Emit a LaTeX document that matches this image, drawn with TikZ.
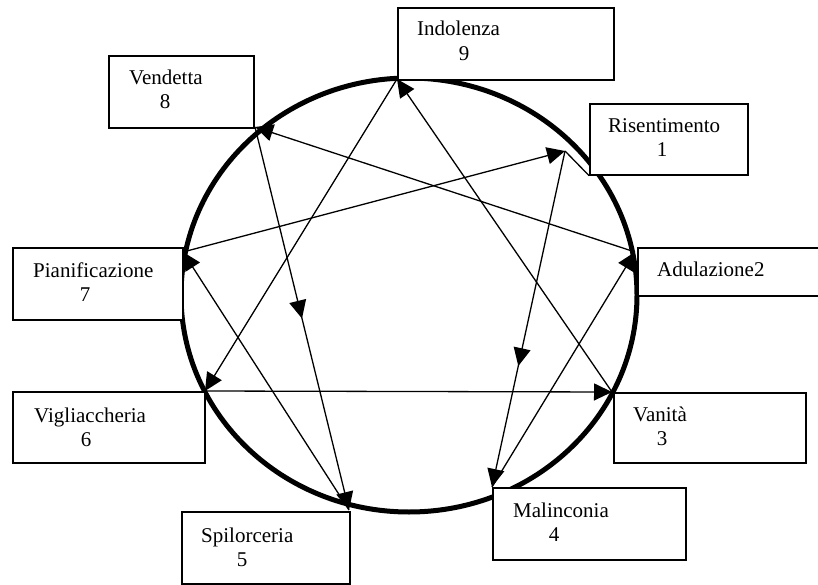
\documentclass[tikz,border=0pt]{standalone}
\usepackage{fontspec}
\setmainfont{Liberation Serif}
\usetikzlibrary{arrows.meta,decorations.markings}
\begin{document}
\begin{tikzpicture}[x=1pt,y=-1pt,
  box/.style={draw,line width=1.6pt,fill=white,anchor=north west,inner sep=0pt},
  lbl/.style={anchor=base west,inner sep=0pt,font=\fontsize{21}{25}\selectfont},
  num/.style={anchor=base,inner sep=0pt,font=\fontsize{21}{25}\selectfont},
  tip/.style={-{Triangle[length=18pt,width=17pt]}},
  conn/.style={line width=1.3pt,tip},
  midtip/.style={postaction={decorate},decoration={markings,mark=at position #1 with {\arrow{Triangle[length=18pt,width=17pt]}}}}
]
\clip (0,0) rectangle (818,585);
\fill[white] (0,0) rectangle (818,585);
% circle
\draw[line width=5pt] (409,295) ellipse [x radius=228, y radius=217];
% connection points
\coordinate (c9) at (397,79);
\coordinate (c8) at (255,127);
\coordinate (c1) at (565,151);
\coordinate (c7) at (183,252);
\coordinate (c2) at (635,252);
\coordinate (c6) at (205,391);
\coordinate (c3) at (612,392);
\coordinate (c5) at (349,510);
\coordinate (c4) at (492,487);
% boxes
\node[box,minimum width=216pt,minimum height=72pt] (b9) at (397,7) {};
\node[box,minimum width=145pt,minimum height=72pt] (b8) at (108,55) {};
\node[box,minimum width=158pt,minimum height=71pt] (b1) at (589,103) {};
\node[box,minimum width=170pt,minimum height=72pt] (b7) at (12,247) {};
\node[box,minimum width=200pt,minimum height=48pt] (b2) at (637,247) {};
\node[box,minimum width=192pt,minimum height=71pt] (b6) at (12,391) {};
\node[box,minimum width=192pt,minimum height=70pt] (b3) at (613,392) {};
\node[box,minimum width=168pt,minimum height=72pt] (b5) at (181,511) {};
\node[box,minimum width=193pt,minimum height=72pt] (b4) at (492,487) {};
% texts
\node[lbl] (t9) at (417,36) {Indolenza};
\node[num] (n9) at (464,61) {9};
\node[lbl] (t8) at (129,85) {Vendetta};
\node[num] (n8) at (165,109) {8};
\node[lbl] (t1) at (608,133) {Risentimento};
\node[num] (n1) at (662,157) {1};
\node[lbl] (t7) at (33,277) {Pianificazione};
\node[num] (n7) at (85,301) {7};
\node[lbl] (t2) at (657,276) {Adulazione2};
\node[lbl] (t6) at (34,422) {Vigliaccheria};
\node[num] (n6) at (86,446) {6};
\node[lbl] (t3) at (633,421) {Vanità};
\node[num] (n3) at (662,445) {3};
\node[lbl] (t5) at (201,542) {Spilorceria};
\node[num] (n5) at (242,566) {5};
\node[lbl] (t4) at (513,517) {Malinconia};
\node[num] (n4) at (554,541) {4};
% stub from risentimento point to its box
\draw[line width=1.3pt] (c1) -- (b1.south west);
% connectors
\draw[conn] (c7) -- (c1);
\draw[conn] (c2) -- (c8);
\draw[conn,midtip=0.5] (c8) -- (c5);
\draw[conn] (c5) -- (c7);
\draw[conn,midtip=0.64] (c1) -- (c4);
\draw[conn] (c4) -- (c2);
\draw[conn] (c9) -- (c6);
\draw[conn] (c6) -- (c3);
\draw[conn] (c3) -- (c9);
\end{tikzpicture}
\end{document}
